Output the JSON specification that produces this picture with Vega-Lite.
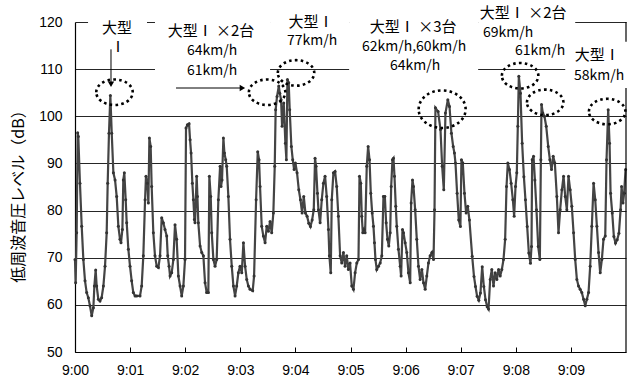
{
  "$schema": "https://vega.github.io/schema/vega-lite/v6.json",
  "width": 551,
  "height": 330,
  "autosize": "none",
  "padding": {"left": 75, "top": 22, "right": 11, "bottom": 33},
  "background": "white",
  "config": {
    "view": {"stroke": null},
    "font": "Liberation Sans",
    "axis": {"labelFont": "Liberation Sans", "labelFontSize": 14, "labelColor": "#000", "domainColor": "#000", "tickColor": "#000"}
  },
  "datasets": {
    "series": [
      {"t":0,"db":69.6},{"t":0.7,"db":64.7},{"t":1.8,"db":75.3},{"t":2.9,"db":96.5},{"t":3.6,"db":95.7},{"t":5.4,"db":85.8},{"t":7.3,"db":76.7},{"t":9.1,"db":69.6},{"t":10.9,"db":65.1},{"t":12.7,"db":62.6},{"t":14.5,"db":61.5},{"t":16.3,"db":59.8},{"t":18.2,"db":57.7},{"t":20.0,"db":59.4},{"t":21.1,"db":64.0},{"t":22.5,"db":67.4},{"t":23.6,"db":64.0},{"t":25.4,"db":61.2},{"t":27.2,"db":60.8},{"t":29.0,"db":61.5},{"t":30.9,"db":64.0},{"t":32.7,"db":68.2},{"t":34.5,"db":75.3},{"t":35.6,"db":85.8},{"t":37.0,"db":96.4},{"t":38.5,"db":104.4},{"t":40.0,"db":96.4},{"t":41.8,"db":88.0},{"t":43.6,"db":86.5},{"t":45.4,"db":83.0},{"t":47.2,"db":76.7},{"t":49.0,"db":73.9},{"t":50.1,"db":73.2},{"t":51.6,"db":76.0},{"t":52.6,"db":86.5},{"t":53.7,"db":88.0},{"t":55.2,"db":82.3},{"t":56.3,"db":77.4},{"t":58.1,"db":71.8},{"t":59.9,"db":68.2},{"t":61.7,"db":65.1},{"t":63.5,"db":62.6},{"t":65.4,"db":61.9},{"t":67.2,"db":61.9},{"t":70.8,"db":61.9},{"t":72.6,"db":64.0},{"t":74.4,"db":70.4},{"t":76.3,"db":82.3},{"t":77.3,"db":87.3},{"t":78.8,"db":85.8},{"t":79.9,"db":81.6},{"t":81.0,"db":95.4},{"t":82.4,"db":93.6},{"t":83.5,"db":85.1},{"t":85.3,"db":75.3},{"t":87.1,"db":70.4},{"t":89.0,"db":68.2},{"t":90.8,"db":67.9},{"t":92.6,"db":70.4},{"t":94.4,"db":78.5},{"t":96.2,"db":77.4},{"t":98.0,"db":76.0},{"t":99.9,"db":74.6},{"t":101.0,"db":70.4},{"t":102.4,"db":68.2},{"t":103.5,"db":66.1},{"t":105.3,"db":66.8},{"t":107.1,"db":69.6},{"t":108.9,"db":77.0},{"t":110.7,"db":73.9},{"t":112.6,"db":66.1},{"t":114.4,"db":64.0},{"t":116.2,"db":61.9},{"t":118.0,"db":64.0},{"t":119.8,"db":69.6},{"t":120.9,"db":97.5},{"t":122.4,"db":98.2},{"t":124.2,"db":98.4},{"t":125.3,"db":95.0},{"t":126.4,"db":92.2},{"t":127.8,"db":85.8},{"t":128.9,"db":82.3},{"t":130.0,"db":78.1},{"t":130.7,"db":77.4},{"t":132.5,"db":87.3},{"t":133.3,"db":83.0},{"t":134.3,"db":77.4},{"t":136.2,"db":72.5},{"t":138.0,"db":71.1},{"t":139.8,"db":70.4},{"t":141.6,"db":64.7},{"t":143.4,"db":62.6},{"t":145.2,"db":62.6},{"t":146.3,"db":87.3},{"t":147.8,"db":83.0},{"t":148.9,"db":75.3},{"t":150.7,"db":69.6},{"t":152.5,"db":68.2},{"t":154.3,"db":69.6},{"t":156.1,"db":82.3},{"t":158.0,"db":89.4},{"t":159.0,"db":85.1},{"t":160.1,"db":86.5},{"t":161.6,"db":95.4},{"t":162.7,"db":92.2},{"t":164.1,"db":90.8},{"t":165.2,"db":89.4},{"t":167.0,"db":83.0},{"t":168.8,"db":73.9},{"t":170.7,"db":68.2},{"t":172.5,"db":64.0},{"t":174.3,"db":61.9},{"t":176.1,"db":64.0},{"t":177.9,"db":66.8},{"t":179.7,"db":68.2},{"t":181.6,"db":66.8},{"t":183.4,"db":73.2},{"t":185.2,"db":68.2},{"t":187.0,"db":65.4},{"t":188.8,"db":64.0},{"t":190.6,"db":63.3},{"t":193.5,"db":63.0},{"t":195.0,"db":66.1},{"t":197.2,"db":82.3},{"t":199.0,"db":92.5},{"t":200.4,"db":90.8},{"t":201.5,"db":85.1},{"t":203.3,"db":76.7},{"t":205.1,"db":74.6},{"t":207.0,"db":73.2},{"t":208.8,"db":76.7},{"t":210.6,"db":75.6},{"t":212.4,"db":77.7},{"t":214.2,"db":75.3},{"t":216.0,"db":79.5},{"t":217.5,"db":89.4},{"t":218.5,"db":101.4},{"t":220.0,"db":104.2},{"t":221.9,"db":106.4},{"t":223.0,"db":104.9},{"t":224.4,"db":103.5},{"t":225.5,"db":97.9},{"t":227.3,"db":102.8},{"t":229.1,"db":94.3},{"t":230.2,"db":90.8},{"t":231.3,"db":107.8},{"t":232.7,"db":107.1},{"t":233.8,"db":101.4},{"t":235.6,"db":93.6},{"t":237.1,"db":90.8},{"t":238.6,"db":88.7},{"t":240.0,"db":90.1},{"t":241.8,"db":88.0},{"t":243.7,"db":84.4},{"t":245.5,"db":82.3},{"t":247.3,"db":79.5},{"t":249.1,"db":83.0},{"t":250.9,"db":79.5},{"t":252.7,"db":78.8},{"t":254.6,"db":77.3},{"t":256.4,"db":76.6},{"t":258.2,"db":78.0},{"t":260.0,"db":80.2},{"t":261.4,"db":91.1},{"t":262.5,"db":89.4},{"t":264.0,"db":83.7},{"t":265.1,"db":80.2},{"t":266.9,"db":77.4},{"t":268.7,"db":82.3},{"t":270.5,"db":85.8},{"t":272.3,"db":87.3},{"t":274.1,"db":83.0},{"t":276.0,"db":76.0},{"t":277.0,"db":70.4},{"t":278.5,"db":66.8},{"t":279.6,"db":82.3},{"t":281.4,"db":88.0},{"t":283.2,"db":88.3},{"t":285.0,"db":85.1},{"t":286.8,"db":78.8},{"t":288.7,"db":70.4},{"t":290.5,"db":68.9},{"t":292.3,"db":71.1},{"t":294.1,"db":68.2},{"t":295.9,"db":70.4},{"t":297.7,"db":67.5},{"t":299.5,"db":68.9},{"t":301.4,"db":64.0},{"t":303.2,"db":63.3},{"t":305.0,"db":66.8},{"t":306.9,"db":68.9},{"t":308.7,"db":69.6},{"t":309.8,"db":87.3},{"t":311.2,"db":85.8},{"t":312.3,"db":78.8},{"t":313.4,"db":75.3},{"t":314.8,"db":76.0},{"t":315.9,"db":75.3},{"t":317.7,"db":89.4},{"t":319.2,"db":93.6},{"t":320.7,"db":90.8},{"t":322.1,"db":83.7},{"t":323.6,"db":79.5},{"t":325.0,"db":76.7},{"t":326.1,"db":73.2},{"t":327.2,"db":69.6},{"t":328.6,"db":67.5},{"t":330.5,"db":68.2},{"t":332.3,"db":68.9},{"t":334.1,"db":70.4},{"t":335.9,"db":83.0},{"t":337.4,"db":83.0},{"t":338.8,"db":77.4},{"t":340.3,"db":73.9},{"t":341.7,"db":72.5},{"t":343.2,"db":75.3},{"t":344.3,"db":85.1},{"t":345.7,"db":90.8},{"t":346.8,"db":91.1},{"t":347.9,"db":87.3},{"t":349.3,"db":80.9},{"t":350.4,"db":76.7},{"t":352.2,"db":71.8},{"t":354.1,"db":68.2},{"t":355.1,"db":66.1},{"t":356.6,"db":76.0},{"t":357.7,"db":75.3},{"t":359.5,"db":73.2},{"t":361.3,"db":71.1},{"t":363.1,"db":66.8},{"t":365.0,"db":64.7},{"t":366.0,"db":81.6},{"t":367.5,"db":86.5},{"t":368.6,"db":85.1},{"t":370.4,"db":80.2},{"t":372.2,"db":73.9},{"t":374.0,"db":68.2},{"t":375.8,"db":65.4},{"t":377.7,"db":67.5},{"t":379.5,"db":64.7},{"t":381.3,"db":63.3},{"t":383.1,"db":66.1},{"t":384.9,"db":68.9},{"t":386.7,"db":70.4},{"t":388.6,"db":71.1},{"t":390.4,"db":69.6},{"t":391.5,"db":80.2},{"t":392.5,"db":101.8},{"t":395.4,"db":101.0},{"t":398.0,"db":97.2},{"t":399.8,"db":89.4},{"t":401.6,"db":84.4},{"t":403.4,"db":100.7},{"t":406.0,"db":103.5},{"t":407.8,"db":102.1},{"t":409.9,"db":96.4},{"t":411.8,"db":93.6},{"t":413.2,"db":92.2},{"t":414.3,"db":90.1},{"t":416.1,"db":83.7},{"t":417.9,"db":78.0},{"t":419.7,"db":76.6},{"t":420.8,"db":90.8},{"t":422.3,"db":90.1},{"t":424.1,"db":83.7},{"t":425.9,"db":79.5},{"t":427.7,"db":80.9},{"t":429.5,"db":78.0},{"t":432.5,"db":70.3},{"t":434.5,"db":66.0},{"t":436.1,"db":63.9},{"t":437.9,"db":61.8},{"t":439.7,"db":61.0},{"t":441.5,"db":62.5},{"t":443.4,"db":68.1},{"t":445.2,"db":63.9},{"t":447.0,"db":61.1},{"t":448.8,"db":59.6},{"t":450.3,"db":59.1},{"t":452.1,"db":65.4},{"t":453.9,"db":67.5},{"t":455.7,"db":64.0},{"t":457.5,"db":66.8},{"t":459.4,"db":65.4},{"t":461.2,"db":67.5},{"t":463.0,"db":66.1},{"t":464.8,"db":67.5},{"t":466.6,"db":69.6},{"t":468.4,"db":73.9},{"t":469.9,"db":85.1},{"t":471.3,"db":90.1},{"t":473.1,"db":88.7},{"t":474.9,"db":85.8},{"t":476.8,"db":82.3},{"t":478.2,"db":78.8},{"t":479.7,"db":85.1},{"t":481.1,"db":88.0},{"t":482.2,"db":97.9},{"t":483.3,"db":108.5},{"t":485.1,"db":104.9},{"t":486.9,"db":94.3},{"t":488.8,"db":87.2},{"t":490.5,"db":82.3},{"t":492.4,"db":76.6},{"t":494.2,"db":71.0},{"t":496.0,"db":68.8},{"t":497.1,"db":72.4},{"t":497.8,"db":90.8},{"t":499.3,"db":91.5},{"t":500.8,"db":86.5},{"t":502.5,"db":80.2},{"t":504.4,"db":72.4},{"t":506.2,"db":69.6},{"t":507.3,"db":90.8},{"t":508.0,"db":102.5},{"t":509.4,"db":100.7},{"t":511.2,"db":100.0},{"t":513.1,"db":97.9},{"t":515.3,"db":93.6},{"t":517.1,"db":90.8},{"t":518.9,"db":88.7},{"t":520.7,"db":91.5},{"t":522.5,"db":90.1},{"t":524.7,"db":83.0},{"t":526.5,"db":75.3},{"t":528.3,"db":80.2},{"t":530.2,"db":84.4},{"t":532.0,"db":87.3},{"t":533.8,"db":83.0},{"t":535.6,"db":80.2},{"t":537.4,"db":87.3},{"t":539.2,"db":84.4},{"t":541.0,"db":80.9},{"t":542.9,"db":75.3},{"t":544.7,"db":69.6},{"t":546.5,"db":65.4},{"t":548.3,"db":64.0},{"t":550.1,"db":63.3},{"t":551.9,"db":62.6},{"t":553.8,"db":61.2},{"t":555.6,"db":59.8},{"t":557.4,"db":61.2},{"t":559.2,"db":62.6},{"t":561.0,"db":68.2},{"t":562.8,"db":76.7},{"t":564.7,"db":85.8},{"t":566.5,"db":82.3},{"t":568.3,"db":76.7},{"t":570.1,"db":71.1},{"t":571.9,"db":66.8},{"t":573.7,"db":69.6},{"t":575.5,"db":73.9},{"t":577.4,"db":74.6},{"t":578.8,"db":90.8},{"t":580.6,"db":101.4},{"t":582.1,"db":94.3},{"t":583.2,"db":83.7},{"t":585.0,"db":79.5},{"t":586.8,"db":74.5},{"t":588.6,"db":73.1},{"t":590.4,"db":73.8},{"t":592.3,"db":75.2},{"t":594.1,"db":80.2},{"t":595.2,"db":85.1},{"t":596.7,"db":81.6},{"t":598.0,"db":83.7},{"t":599.5,"db":88.7}
    ],
    "border": [{"t": 600, "db": 50, "db2": 120}],
    "boxes": [
      {"t": 14.2, "t2": 78.4, "db": 122.2, "db2": 114.5},
      {"t": 87.1, "t2": 212.4, "db": 122.2, "db2": 107.3},
      {"t": 212.4, "t2": 298.5, "db": 122.6, "db2": 113.7},
      {"t": 298.5, "t2": 439.0, "db": 122.6, "db2": 108.2},
      {"t": 439.0, "t2": 544.7, "db": 124.7, "db2": 112.0},
      {"t": 533.8, "t2": 606.5, "db": 115.8, "db2": 106.0}
    ],
    "ellipses": [
      {"t": 43.0, "db": 105.1},
      {"t": 209.2, "db": 105.1},
      {"t": 240.7, "db": 109.2},
      {"t": 484.7, "db": 108.6},
      {"t": 512.0, "db": 102.95},
      {"t": 579.5, "db": 101.0}
    ],
    "bigellipse": [{"t": 399.8, "db": 101.5}],
    "vrules": [{"t": 39.2, "db": 114.2, "db2": 106.6}],
    "hrules": [{"t": 110.0, "t2": 183.0, "db": 106.0}],
    "heads": [
      {"t": 39.2, "db": 106.8, "dir": "down"},
      {"t": 182.3, "db": 106.0, "dir": "right"}
    ],
    "labels": [
      {"t": 45.8, "db": 118.8, "label": "大型", "kind": "type"},
      {"t": 46.8, "db": 114.7, "label": "Ⅰ", "kind": "type"},
      {"t": 148.1, "db": 118.0, "label": "大型Ⅰ ×2台", "kind": "type"},
      {"t": 149.2, "db": 113.9, "label": "64km/h", "kind": "speed"},
      {"t": 149.2, "db": 109.7, "label": "61km/h", "kind": "speed"},
      {"t": 257.1, "db": 120.1, "label": "大型Ⅰ", "kind": "type"},
      {"t": 258.2, "db": 116.0, "label": "77km/h", "kind": "speed"},
      {"t": 368.2, "db": 119.0, "label": "大型Ⅰ ×3台", "kind": "type"},
      {"t": 369.3, "db": 114.6, "label": "62km/h,60km/h", "kind": "speed"},
      {"t": 370.4, "db": 110.6, "label": "64km/h", "kind": "speed"},
      {"t": 488.0, "db": 121.9, "label": "大型Ⅰ ×2台", "kind": "type"},
      {"t": 471.7, "db": 117.6, "label": "69km/h", "kind": "speed"},
      {"t": 506.5, "db": 113.9, "label": "61km/h", "kind": "speed"},
      {"t": 568.6, "db": 112.9, "label": "大型Ⅰ", "kind": "type"},
      {"t": 570.8, "db": 108.6, "label": "58km/h", "kind": "speed"}
    ]
  },
  "encoding": {
    "x": {
      "field": "t", "type": "quantitative",
      "scale": {"domain": [0, 600], "nice": false, "zero": false},
      "axis": {
        "title": null, "values": [0, 60, 120, 180, 240, 300, 360, 420, 480, 540],
        "labelExpr": "'9:0' + floor(datum.value / 60)",
        "grid": false, "tickSize": -5, "labelPadding": 16, "labelFlush": false,
        "domainWidth": 1.2
      }
    },
    "y": {
      "field": "db", "type": "quantitative",
      "scale": {"domain": [50, 120], "nice": false, "zero": false},
      "axis": {
        "title": "低周波音圧レベル（dB）", "values": [50, 60, 70, 80, 90, 100, 110, 120],
        "grid": true, "gridColor": "#000", "gridOpacity": 0.85, "gridWidth": 1,
        "ticks": false, "labelPadding": 13, "domainWidth": 1.2,
        "titleFont": "Noto Sans CJK JP", "titleFontSize": 16, "titleFontWeight": "normal", "titleColor": "#000",
        "titleX": -57, "titleY": 170, "titleAngle": 270, "titleAlign": "center", "titleBaseline": "middle"
      }
    }
  },
  "layer": [
    {
      "data": {"name": "series"},
      "mark": {"type": "line", "color": "#444444", "strokeWidth": 2.2, "point": {"size": 9, "color": "#333333", "filled": true}}
    },
    {
      "data": {"name": "border"},
      "mark": {"type": "rule", "color": "#000", "strokeWidth": 1.2},
      "encoding": {"y2": {"field": "db2"}}
    },
    {
      "data": {"name": "boxes"},
      "mark": {"type": "rect", "fill": "white", "stroke": null},
      "encoding": {"x2": {"field": "t2"}, "y2": {"field": "db2"}}
    },
    {
      "data": {"name": "ellipses"},
      "mark": {"type": "point", "shape": "M -1 0 A 1 0.7 0 1 1 1 0 A 1 0.7 0 1 1 -1 0 Z", "size": 1330, "filled": false, "stroke": "#000", "strokeWidth": 2.6, "strokeDash": [2.6, 3.2], "opacity": 1}
    },
    {
      "data": {"name": "bigellipse"},
      "mark": {"type": "point", "shape": "M -1 0 A 1 0.8 0 1 1 1 0 A 1 0.8 0 1 1 -1 0 Z", "size": 2209, "filled": false, "stroke": "#000", "strokeWidth": 2.6, "strokeDash": [2.6, 3.2], "opacity": 1}
    },
    {
      "data": {"name": "vrules"},
      "mark": {"type": "rule", "color": "#000", "strokeWidth": 1},
      "encoding": {"y2": {"field": "db2"}}
    },
    {
      "data": {"name": "hrules"},
      "mark": {"type": "rule", "color": "#000", "strokeWidth": 1},
      "encoding": {"x2": {"field": "t2"}}
    },
    {
      "data": {"name": "heads"},
      "mark": {"type": "point", "filled": true, "color": "#000", "size": 40, "opacity": 1},
      "encoding": {
        "shape": {"field": "dir", "type": "nominal", "scale": {"domain": ["down", "right"], "range": ["triangle-down", "triangle-right"]}, "legend": null}
      }
    },
    {
      "data": {"name": "labels"},
      "transform": [{"filter": "datum.kind === 'type'"}],
      "mark": {"type": "text", "font": "Noto Sans CJK JP", "fontSize": 15, "color": "#000", "align": "center", "baseline": "middle"},
      "encoding": {"text": {"field": "label"}}
    },
    {
      "data": {"name": "labels"},
      "transform": [{"filter": "datum.kind === 'speed'"}],
      "mark": {"type": "text", "font": "Noto Sans CJK JP", "fontSize": 14, "color": "#000", "align": "center", "baseline": "middle"},
      "encoding": {"text": {"field": "label"}}
    }
  ]
}
